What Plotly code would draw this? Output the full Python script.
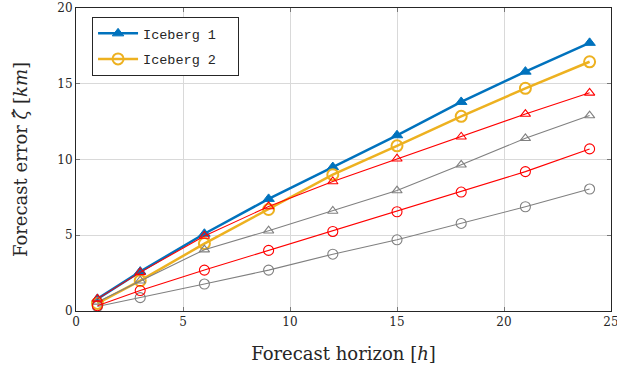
import plotly.graph_objects as go

horizon = [1, 3, 6, 9, 12, 15, 18, 21, 24]
iceberg1 = [0.8, 2.6, 5.1, 7.4, 9.5, 11.6, 13.8, 15.8, 17.7]
iceberg2 = [0.5, 2.0, 4.45, 6.7, 9.0, 10.9, 12.85, 14.7, 16.45]
red_tri = [0.8, 2.55, 4.95, 6.9, 8.55, 10.05, 11.5, 13.0, 14.4]
gray_tri = [0.6, 2.0, 4.05, 5.3, 6.6, 7.95, 9.65, 11.4, 12.9]
red_circ = [0.35, 1.35, 2.7, 4.0, 5.25, 6.55, 7.85, 9.2, 10.7]
gray_circ = [0.3, 0.88, 1.78, 2.7, 3.75, 4.7, 5.78, 6.88, 8.05]
legend_names = ["Iceberg 1", "Iceberg 2"]

BLUE = "#0072BD"
YELLOW = "#EDB120"
RED = "#FF0000"
GRAY = "#808080"
SERIF = "DejaVu Serif, Liberation Serif, serif"

fig = go.Figure()
fig.add_trace(go.Scatter(x=horizon, y=iceberg1, name=legend_names[0] + "\u00a0\u00a0", mode="lines+markers",
                         legendgroup="a",
                         line=dict(color=BLUE, width=2.5),
                         marker=dict(symbol="triangle-up", size=10, color=BLUE,
                                     line=dict(color=BLUE, width=1))))
fig.add_trace(go.Scatter(x=horizon, y=iceberg2, name=legend_names[1] + "\u00a0\u00a0", mode="lines+markers",
                         legendgroup="b",
                         line=dict(color=YELLOW, width=2.5),
                         marker=dict(symbol="circle-open", size=11, color=YELLOW,
                                     line=dict(color=YELLOW, width=2))))
fig.add_trace(go.Scatter(x=horizon, y=gray_tri, showlegend=False, mode="lines+markers",
                         line=dict(color=GRAY, width=1.1),
                         marker=dict(symbol="triangle-up-open", size=9, color=GRAY,
                                     line=dict(color=GRAY, width=1.1))))
fig.add_trace(go.Scatter(x=horizon, y=gray_circ, showlegend=False, mode="lines+markers",
                         line=dict(color=GRAY, width=1.1),
                         marker=dict(symbol="circle-open", size=10, color=GRAY,
                                     line=dict(color=GRAY, width=1.1))))
fig.add_trace(go.Scatter(x=horizon, y=red_tri, showlegend=False, mode="lines+markers",
                         line=dict(color=RED, width=1.1),
                         marker=dict(symbol="triangle-up-open", size=9, color=RED,
                                     line=dict(color=RED, width=1.1))))
fig.add_trace(go.Scatter(x=horizon, y=red_circ, showlegend=False, mode="lines+markers",
                         line=dict(color=RED, width=1.1),
                         marker=dict(symbol="circle-open", size=10, color=RED,
                                     line=dict(color=RED, width=1.1))))

axis_common = dict(showgrid=True, gridcolor="#d9d9d9", gridwidth=1, automargin=False,
                   showline=True, linecolor="#262626", linewidth=1, mirror="ticks",
                   ticks="inside", ticklen=4, tickcolor="#777777",
                   zeroline=False, tickfont=dict(family=SERIF, size=12, color="#262626"))

fig.update_xaxes(range=[0, 25], tickvals=[0, 5, 10, 15, 20, 25],
                 title=dict(text="Forecast horizon [<i>h</i>]", font=dict(family=SERIF, size=18, color="#262626"),
                            standoff=18),
                 **axis_common)
fig.update_yaxes(range=[0, 20], tickvals=[0, 5, 10, 15, 20],
                 title=dict(text="Forecast error <i>ζ̂</i> [<i>km</i>]", font=dict(family=SERIF, size=18, color="#262626"),
                            standoff=25),
                 **axis_common)

fig.update_layout(
    width=625, height=374,
    margin=dict(l=76, r=14, t=8, b=63),
    paper_bgcolor="white", plot_bgcolor="white",
    legend=dict(x=0.03, y=0.97, xanchor="left", yanchor="top",
                bgcolor="white", bordercolor="#262626", borderwidth=1,
                font=dict(family="Liberation Mono, DejaVu Sans Mono, monospace", size=13.5, color="#262626"),
                tracegroupgap=5, itemwidth=40),
)

fig.write_html("out.html", config={"displayModeBar": False},
               post_script="document.body.style.margin='0px';document.body.style.overflow='hidden';")
